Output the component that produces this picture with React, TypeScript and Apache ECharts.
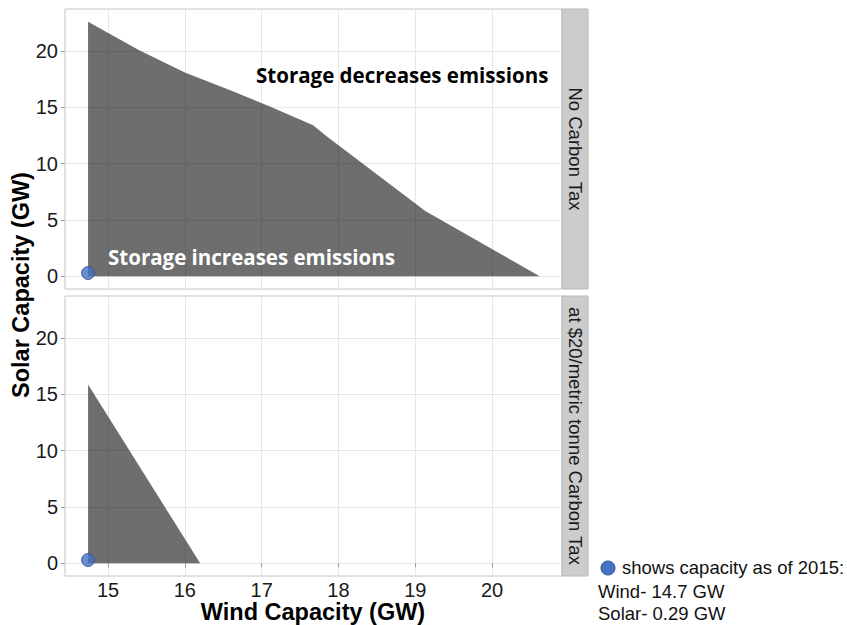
import React, { useEffect, useRef } from "react";
import * as echarts from "echarts";

// Axis ticks
const windTicks = [15, 16, 17, 18, 19, 20];
const solarTicks = [0, 5, 10, 15, 20];

// Region where storage decreases emissions — no carbon tax
const noTaxWind = [14.74, 15.4, 16.0, 16.6, 17.1, 17.67, 17.85, 19.13, 20.62];
const noTaxSolar = [22.6, 20.1, 18.1, 16.5, 15.1, 13.4, 12.4, 5.8, 0];

// Region where storage decreases emissions — $20/metric tonne carbon tax
const taxWind = [14.74, 16.2];
const taxSolar = [15.87, 0];

// Installed capacity as of 2015
const capacity2015Wind = 14.74;
const capacity2015Solar = 0.29;

const panelTitles = ["No Carbon Tax", "at $20/metric tonne Carbon Tax"];

const X_MIN = 14.44;
const X_MAX = 20.91;
const Y_MIN = -1.13;
const Y_MAX = 23.73;

const GRID_LEFT = 65;
const GRID_WIDTH = 497;
const PANEL_TOPS = [9, 296];
const PANEL_HEIGHT = 280;

const FILL = "rgba(0,0,0,0.57)";
const DOT = "#4472c4";
const DOT_EDGE = "#2f528f";
const TEXT = "#1a1a1a";
const SANS = '"Liberation Sans", Arial, sans-serif';
const ANNOT = '"Open Sans", sans-serif';

function zip(xs: number[], ys: number[]) {
  return xs.map((x, i) => [x, ys[i]]);
}

export default function App() {
  const ref = useRef<HTMLDivElement>(null);

  useEffect(() => {
    if (!ref.current) return;
    const chart = echarts.init(ref.current, undefined, { renderer: "svg" });

    const grids = PANEL_TOPS.map((top) => ({
      left: GRID_LEFT,
      top,
      width: GRID_WIDTH,
      height: PANEL_HEIGHT,
      show: true,
      borderColor: "#c4c4c4",
      borderWidth: 1,
      backgroundColor: "transparent",
    }));

    const xAxes = [0, 1].map((i) => ({
      type: "value",
      gridIndex: i,
      min: X_MIN,
      max: X_MAX,
      axisLine: { show: false },
      axisTick: {
        show: i === 1,
        customValues: windTicks,
        length: 4,
        lineStyle: { color: "#999" },
      },
      axisLabel: {
        show: i === 1,
        customValues: windTicks,
        margin: 4,
        fontSize: 20,
        color: TEXT,
        fontFamily: SANS,
      },
      splitLine: { show: true, lineStyle: { color: "#e6e6e6", width: 1 } },
    }));

    const yAxes = [0, 1].map((i) => ({
      type: "value",
      gridIndex: i,
      min: Y_MIN,
      max: Y_MAX,
      axisLine: { show: false },
      axisTick: {
        show: true,
        customValues: solarTicks,
        length: 4,
        lineStyle: { color: "#999" },
      },
      axisLabel: {
        customValues: solarTicks,
        margin: 7,
        fontSize: 20,
        color: TEXT,
        fontFamily: SANS,
      },
      splitLine: { show: true, lineStyle: { color: "#e6e6e6", width: 1 } },
    }));

    const areaSeries = (xs: number[], ys: number[], idx: number) => ({
      type: "line",
      xAxisIndex: idx,
      yAxisIndex: idx,
      data: zip(xs, ys),
      showSymbol: false,
      symbol: "none",
      lineStyle: { width: 0, opacity: 0 },
      areaStyle: { color: FILL, opacity: 1, origin: 0 },
      silent: true,
      z: 2,
    });

    const dotSeries = (idx: number) => ({
      type: "scatter",
      xAxisIndex: idx,
      yAxisIndex: idx,
      data: [[capacity2015Wind, capacity2015Solar]],
      symbolSize: 13,
      itemStyle: { color: DOT, borderColor: DOT_EDGE, borderWidth: 1 },
      z: 5,
    });

    const stripGraphics: any[] = [];
    PANEL_TOPS.forEach((top, i) => {
      stripGraphics.push({
        type: "rect",
        shape: { x: GRID_LEFT + GRID_WIDTH, y: top, width: 26, height: PANEL_HEIGHT },
        style: { fill: "#cccccc", stroke: "#b8b8b8", lineWidth: 1 },
        z: 10,
      });
      stripGraphics.push({
        type: "text",
        x: GRID_LEFT + GRID_WIDTH + 13,
        y: top + PANEL_HEIGHT / 2,
        rotation: -Math.PI / 2,
        style: {
          text: panelTitles[i],
          fill: TEXT,
          fontSize: 18.5,
          fontFamily: SANS,
          align: "center",
          verticalAlign: "middle",
        },
        z: 11,
      });
    });

    chart.setOption({
      animation: false,
      backgroundColor: "#ffffff",
      grid: grids,
      xAxis: xAxes,
      yAxis: yAxes,
      series: [
        areaSeries(noTaxWind, noTaxSolar, 0),
        areaSeries(taxWind, taxSolar, 1),
        dotSeries(0),
        dotSeries(1),
      ],
      graphic: [
        ...stripGraphics,
        {
          type: "text",
          x: 256,
          y: 75,
          style: {
            text: "Storage decreases emissions",
            fill: "#000000",
            fontSize: 20.5,
            fontWeight: "bold",
            fontFamily: ANNOT,
            align: "left",
            verticalAlign: "middle",
          },
          z: 10,
        },
        {
          type: "text",
          x: 108,
          y: 257,
          style: {
            text: "Storage increases emissions",
            fill: "#ffffff",
            fontSize: 20.5,
            fontWeight: "bold",
            fontFamily: ANNOT,
            align: "left",
            verticalAlign: "middle",
          },
          z: 10,
        },
        {
          type: "text",
          x: 21,
          y: 285,
          rotation: Math.PI / 2,
          style: {
            text: "Solar Capacity (GW)",
            fill: "#000000",
            fontSize: 23.5,
            fontWeight: "bold",
            fontFamily: SANS,
            align: "center",
            verticalAlign: "middle",
          },
          z: 10,
        },
        {
          type: "text",
          x: 313,
          y: 612,
          style: {
            text: "Wind Capacity (GW)",
            fill: "#000000",
            fontSize: 23.5,
            fontWeight: "bold",
            fontFamily: SANS,
            align: "center",
            verticalAlign: "middle",
          },
          z: 10,
        },
        {
          type: "circle",
          shape: { cx: 608, cy: 568, r: 7 },
          style: { fill: DOT, stroke: DOT_EDGE, lineWidth: 1 },
          z: 10,
        },
        ...["shows capacity as of 2015:", "Wind- 14.7 GW", "Solar- 0.29 GW"].map(
          (t, i) => ({
            type: "text",
            x: i === 0 ? 622 : 598,
            y: [567, 591, 613][i],
            style: {
              text: t,
              fill: "#111111",
              fontSize: 18.5,
              fontFamily: SANS,
              align: "left",
              verticalAlign: "middle",
            },
            z: 10,
          })
        ),
      ],
    });

    return () => chart.dispose();
  }, []);

  return (
    <div
      ref={ref}
      style={{ position: "fixed", left: 0, top: 0, width: 847, height: 625, background: "#fff" }}
    />
  );
}
